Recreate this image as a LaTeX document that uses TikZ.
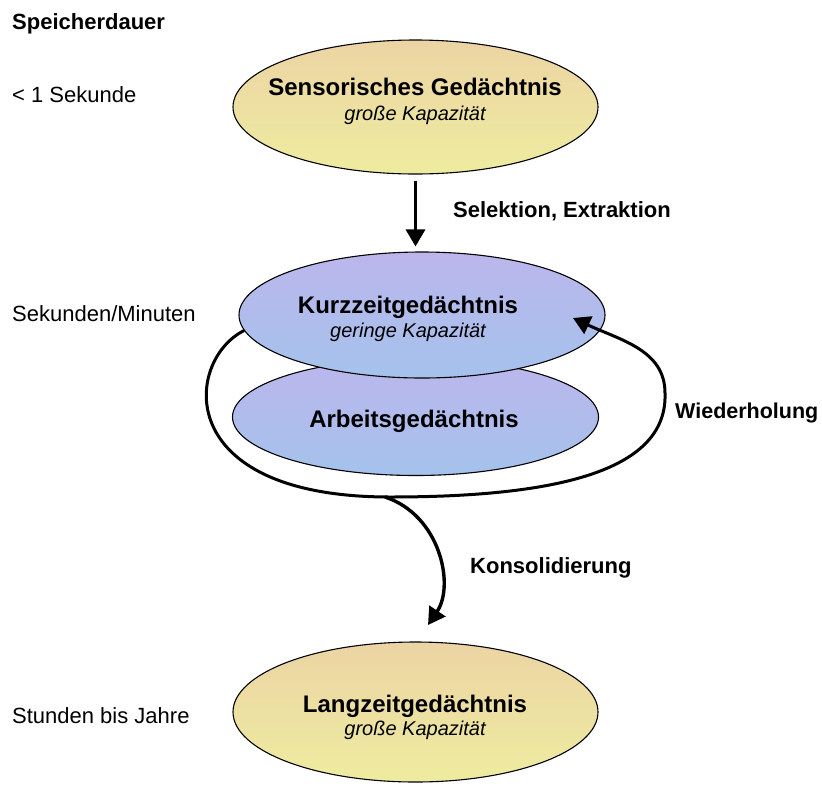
\documentclass[tikz,border=0pt]{standalone}
\usepackage{fontspec}
\setmainfont{Liberation Sans}
\usetikzlibrary{arrows.meta,shapes.geometric}
\definecolor{YellowTop}{RGB}{236,212,164}
\definecolor{YellowBottom}{RGB}{238,236,160}
\definecolor{BlueTop}{RGB}{188,182,236}
\definecolor{BlueBottom}{RGB}{164,194,236}
\begin{document}
\begin{tikzpicture}
[
x=1pt, y=-1pt,
Memory/.style={ellipse, draw=black, line width=1.1pt, inner sep=0pt},
YellowMemory/.style={Memory, top color=YellowTop, bottom color=YellowBottom, minimum width=365pt, minimum height=134pt},
BlueMemory/.style={Memory, top color=BlueTop, bottom color=BlueBottom, minimum width=366pt},
Title/.style={anchor=base, font=\fontsize{24}{28}\selectfont\bfseries},
Sub/.style={anchor=base, font=\fontsize{20}{24}\selectfont\itshape},
SideLabel/.style={anchor=base west, inner sep=0pt, font=\fontsize{22}{26}\selectfont},
ArrowLabel/.style={anchor=base west, inner sep=0pt, font=\fontsize{22}{26}\selectfont\bfseries},
ThickArrow/.style={-{Triangle[length=17pt,width=19pt]}, line width=3.4pt, draw=black},
LoopArrow/.style={-{Triangle[length=17pt,width=19pt]}, line width=3pt, draw=black},
]

\useasboundingbox (0,0) rectangle (822,785);

% Speicherdauer
\node[ArrowLabel] (dauer) at (12,29) {Speicherdauer};
\node[SideLabel] (sekunde) at (12,102) {< 1 Sekunde};
\node[SideLabel] (minuten) at (12,321) {Sekunden/Minuten};
\node[SideLabel] (jahre) at (12,723) {Stunden bis Jahre};

% Speicher
\node[YellowMemory] (sens) at (415.5,107) {};
\node[BlueMemory, minimum height=117pt] (arbeit) at (415.5,417) {};
\node[BlueMemory, minimum height=126pt] (kurz) at (422,315) {};
\node[YellowMemory, minimum height=140pt] (lang) at (415.5,712) {};

\node[Title] (senstitle) at (415,95) {Sensorisches Gedächtnis};
\node[Sub] (senssub) at (415,120) {große Kapazität};
\node[Title] (kurztitle) at (408,313) {Kurzzeitgedächtnis};
\node[Sub] (kurzsub) at (408,337) {geringe Kapazität};
\node[Title] (arbeittitle) at (414,427) {Arbeitsgedächtnis};
\node[Title] (langtitle) at (415,712) {Langzeitgedächtnis};
\node[Sub] (langsub) at (415,735) {große Kapazität};

% Pfeile
\draw[ThickArrow, shorten <=6pt, shorten >=5pt] (sens.south) -- (sens.south |- kurz.north);
\node[ArrowLabel] (selektion) at (453,217) {Selektion, Extraktion};

\coordinate (loopbottom) at (390,497);
\coordinate (loopright) at (665,393);
\coordinate (rehearsaltip) at (573,318);
\draw[LoopArrow] (kurz.185) .. controls (185,360) and (170,497) .. (loopbottom)
  .. controls (560,497) and (668,470) .. (loopright)
  .. controls (665,350) and (620,340) .. (rehearsaltip);
\node[ArrowLabel, font=\fontsize{21.5}{26}\selectfont\bfseries] (wiederholung) at (675,418) {Wiederholung};

\coordinate (konsstart) at (385,497);
\coordinate (konstip) at (428,625);
\draw[ThickArrow] (konsstart) .. controls (440,515) and (455,585) .. (konstip);
\node[ArrowLabel] (konsolidierung) at (470,573) {Konsolidierung};

\end{tikzpicture}
\end{document}
